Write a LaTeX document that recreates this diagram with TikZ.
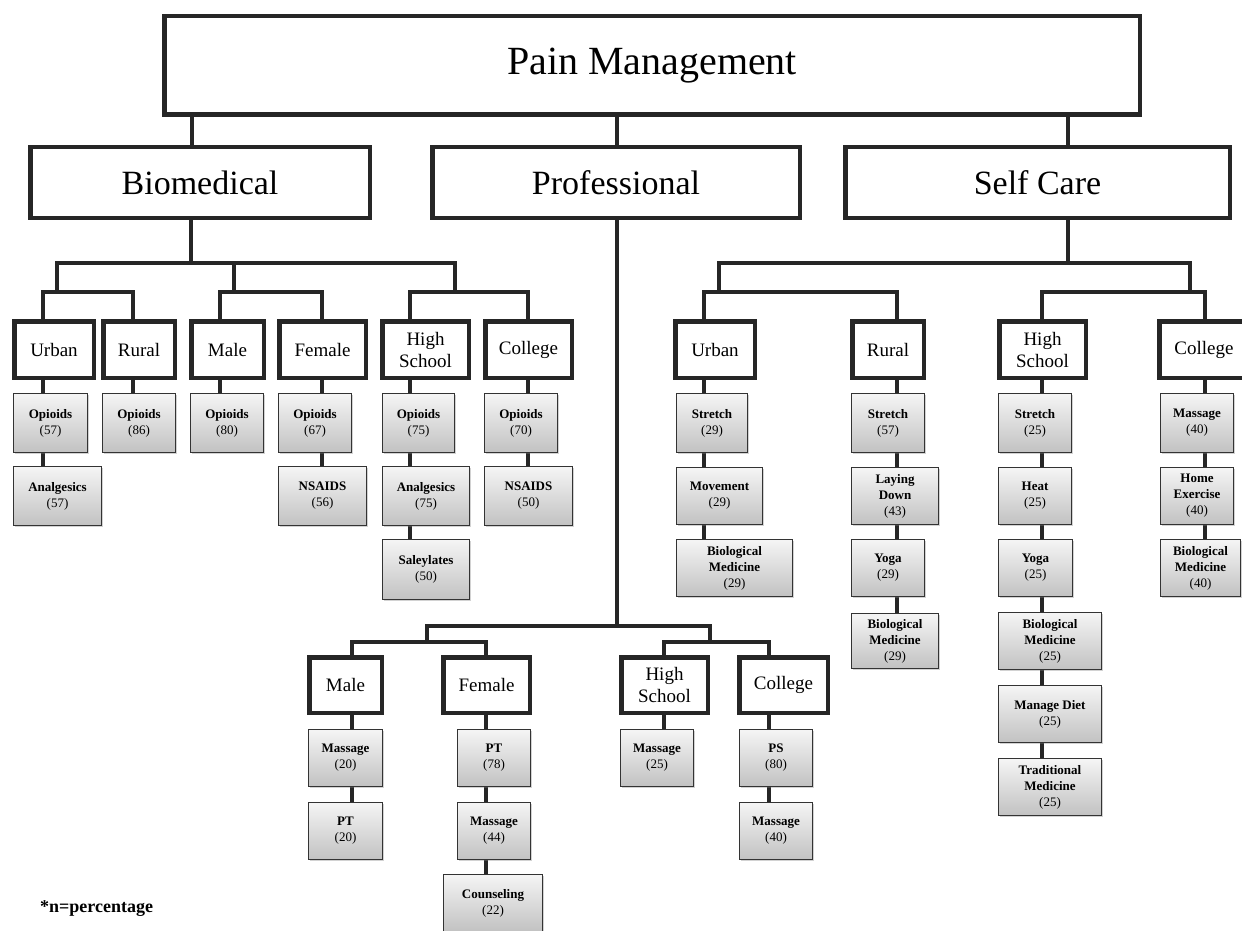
\documentclass[tikz,border=0pt]{standalone}
\usepackage{fontspec}
\setmainfont{Liberation Serif}
\usetikzlibrary{shadows}
\pgfdeclarelayer{bg}
\pgfsetlayers{bg,main}

\tikzset{
  conn/.style={draw=black!85, line width=4pt, line cap=rect},
  headbox/.style={draw=black!85, line width=4.5pt, fill=white, inner sep=0pt, align=center},
  topfont/.style={font=\fontsize{40}{44}\selectfont},
  catfont/.style={font=\fontsize{34}{38}\selectfont},
  grpfont/.style={font=\fontsize{19}{22}\selectfont},
  itembox/.style={draw=black!80, line width=1.2pt, top color=black!4, bottom color=black!24,
    drop shadow={shadow xshift=1.5pt, shadow yshift=-1.5pt, opacity=0.35},
    inner sep=0pt, align=center, font=\fontsize{13}{16}\selectfont\bfseries}
}

% header box: style, name, x1, y1, x2, y2, text (outer edges in px)
\newcommand{\headnode}[7]{\node[headbox, #1, minimum width={#5-#3-4.5}, minimum height={#6-#4-4.5}] (#2) at ({(#3+#5)/2},{(#4+#6)/2}) {#7};}
% item box: name, x1, y1, x2, y2, label, value
\newcommand{\itemnode}[7]{\node[itembox, minimum width={#4-#2-1.2}, minimum height={#5-#3-1.2}] (#1) at ({(#2+#4)/2},{(#3+#5)/2}) {#6\\\mdseries(#7)};}

\begin{document}
\begin{tikzpicture}[x=1pt, y=-1pt]
\useasboundingbox (0,0) rectangle (1242,931);
\begin{pgfonlayer}{bg}
  \fill[white] (0,0) rectangle (1242,931);
\end{pgfonlayer}

% ---- top levels
\headnode{topfont}{top}{162}{14}{1142}{117}{Pain Management}
\headnode{catfont}{bio}{28}{145}{372}{220}{Biomedical}
\headnode{catfont}{pro}{430}{145}{802}{220}{Professional}
\headnode{catfont}{self}{843}{145}{1232}{220}{Self Care}

% ---- Biomedical groups
\headnode{grpfont}{bU}{12}{319}{96}{380}{Urban}
\headnode{grpfont}{bR}{101}{319}{177}{380}{Rural}
\headnode{grpfont}{bM}{189}{319}{266}{380}{Male}
\headnode{grpfont}{bF}{277}{319}{368}{380}{Female}
\headnode{grpfont}{bH}{380}{319}{471}{380}{High\\School}
\headnode{grpfont}{bC}{483}{319}{574}{380}{College}

\itemnode{bU1}{13}{393}{88}{453}{Opioids}{57}
\itemnode{bU2}{13}{466}{102}{526}{Analgesics}{57}
\itemnode{bR1}{102}{393}{176}{453}{Opioids}{86}
\itemnode{bM1}{190}{393}{264}{453}{Opioids}{80}
\itemnode{bF1}{278}{393}{352}{453}{Opioids}{67}
\itemnode{bF2}{278}{466}{367}{526}{NSAIDS}{56}
\itemnode{bH1}{382}{393}{455}{453}{Opioids}{75}
\itemnode{bH2}{382}{466}{470}{526}{Analgesics}{75}
\itemnode{bH3}{382}{539}{470}{600}{Saleylates}{50}
\itemnode{bC1}{484}{393}{558}{453}{Opioids}{70}
\itemnode{bC2}{484}{466}{573}{526}{NSAIDS}{50}

% ---- Self Care groups
\headnode{grpfont}{sU}{673}{319}{757}{380}{Urban}
\headnode{grpfont}{sR}{850}{319}{926}{380}{Rural}
\headnode{grpfont}{sH}{997}{319}{1088}{380}{High\\School}
\headnode{grpfont}{sC}{1157}{319}{1251}{380}{College}

\itemnode{sU1}{676}{393}{748}{453}{Stretch}{29}
\itemnode{sU2}{676}{467}{763}{525}{Movement}{29}
\itemnode{sU3}{676}{539}{793}{597}{Biological\\Medicine}{29}
\itemnode{sR1}{851}{393}{925}{453}{Stretch}{57}
\itemnode{sR2}{851}{467}{939}{525}{Laying\\Down}{43}
\itemnode{sR3}{851}{539}{925}{597}{Yoga}{29}
\itemnode{sR4}{851}{613}{939}{669}{Biological\\Medicine}{29}
\itemnode{sH1}{998}{393}{1072}{453}{Stretch}{25}
\itemnode{sH2}{998}{467}{1072}{525}{Heat}{25}
\itemnode{sH3}{998}{539}{1073}{597}{Yoga}{25}
\itemnode{sH4}{998}{612}{1102}{670}{Biological\\Medicine}{25}
\itemnode{sH5}{998}{685}{1102}{743}{Manage Diet}{25}
\itemnode{sH6}{998}{758}{1102}{816}{Traditional\\Medicine}{25}
\itemnode{sC1}{1160}{393}{1234}{453}{Massage}{40}
\itemnode{sC2}{1160}{467}{1234}{525}{Home\\Exercise}{40}
\itemnode{sC3}{1160}{539}{1241}{597}{Biological\\Medicine}{40}

% ---- Professional groups
\headnode{grpfont}{pM}{307}{655}{384}{715}{Male}
\headnode{grpfont}{pF}{441}{655}{532}{715}{Female}
\headnode{grpfont}{pH}{619}{655}{710}{715}{High\\School}
\headnode{grpfont}{pC}{737}{655}{830}{715}{College}

\itemnode{pM1}{308}{729}{383}{787}{Massage}{20}
\itemnode{pM2}{308}{802}{383}{860}{PT}{20}
\itemnode{pF1}{457}{729}{531}{787}{PT}{78}
\itemnode{pF2}{457}{802}{531}{860}{Massage}{44}
\itemnode{pF3}{443}{874}{543}{932}{Counseling}{22}
\itemnode{pH1}{620}{729}{694}{787}{Massage}{25}
\itemnode{pC1}{739}{729}{813}{787}{PS}{80}
\itemnode{pC2}{739}{802}{813}{860}{Massage}{40}

% ---- footnote
\node[anchor=base west, inner sep=0pt, font=\fontsize{18}{20}\selectfont\bfseries] (note) at (40,912) {*n=percentage};

% ---- connectors, behind the boxes
\coordinate (kB) at (192,0);
\coordinate (kP) at (617,0);
\coordinate (kS) at (1068,0);
% Biomedical
\coordinate (bioJ) at (191,263);
\coordinate (bioL) at (57,263);
\coordinate (bioM) at (234,263);
\coordinate (bioR) at (455,263);
\coordinate (bUc) at (43,292);
\coordinate (bRc) at (133,292);
\coordinate (bMc) at (220,292);
\coordinate (bFc) at (322,292);
\coordinate (bHc) at (410,292);
\coordinate (bCc) at (528,292);
% Self Care
\coordinate (selfJ) at (1068,263);
\coordinate (selfL) at (719,263);
\coordinate (selfR) at (1190,263);
\coordinate (sUc) at (704,292);
\coordinate (sRc) at (897,292);
\coordinate (sHc) at (1042,292);
\coordinate (sCc) at (1205,292);
% Professional
\coordinate (proJ) at (617,626);
\coordinate (proL) at (427,626);
\coordinate (proR) at (710,626);
\coordinate (pMc) at (352,642);
\coordinate (pFc) at (486,642);
\coordinate (pHc) at (664,642);
\coordinate (pCc) at (769,642);

\begin{pgfonlayer}{bg}
  \draw[conn] (top.south -| kB) -- (bio.north -| kB);
  \draw[conn] (top.south -| kP) -- (pro.north -| kP);
  \draw[conn] (top.south -| kS) -- (self.north -| kS);

  \draw[conn] (bio.south -| bioJ) -- (bioJ);
  \draw[conn] (bioL) -- (bioR);
  \draw[conn] (bioL) -- (bioL |- bUc);
  \draw[conn] (bioM) -- (bioM |- bMc);
  \draw[conn] (bioR) -- (bioR |- bHc);
  \draw[conn] (bUc) -- (bRc);
  \draw[conn] (bMc) -- (bFc);
  \draw[conn] (bHc) -- (bCc);
  \draw[conn] (bUc) -- (bU2.north -| bUc);
  \draw[conn] (bRc) -- (bR1.north -| bRc);
  \draw[conn] (bMc) -- (bM1.north -| bMc);
  \draw[conn] (bFc) -- (bF2.north -| bFc);
  \draw[conn] (bHc) -- (bH3.north -| bHc);
  \draw[conn] (bCc) -- (bC2.north -| bCc);

  \draw[conn] (self.south -| selfJ) -- (selfJ);
  \draw[conn] (selfL) -- (selfR);
  \draw[conn] (selfL) -- (selfL |- sUc);
  \draw[conn] (selfR) -- (selfR |- sHc);
  \draw[conn] (sUc) -- (sRc);
  \draw[conn] (sHc) -- (sCc);
  \draw[conn] (sUc) -- (sU3.north -| sUc);
  \draw[conn] (sRc) -- (sR4.north -| sRc);
  \draw[conn] (sHc) -- (sH6.north -| sHc);
  \draw[conn] (sCc) -- (sC3.north -| sCc);

  \draw[conn] (pro.south -| proJ) -- (proJ);
  \draw[conn] (proL) -- (proR);
  \draw[conn] (proL) -- (proL |- pMc);
  \draw[conn] (proR) -- (proR |- pHc);
  \draw[conn] (pMc) -- (pFc);
  \draw[conn] (pHc) -- (pCc);
  \draw[conn] (pMc) -- (pM2.north -| pMc);
  \draw[conn] (pFc) -- (pF3.north -| pFc);
  \draw[conn] (pHc) -- (pH1.north -| pHc);
  \draw[conn] (pCc) -- (pC2.north -| pCc);
\end{pgfonlayer}
\end{tikzpicture}
\end{document}
